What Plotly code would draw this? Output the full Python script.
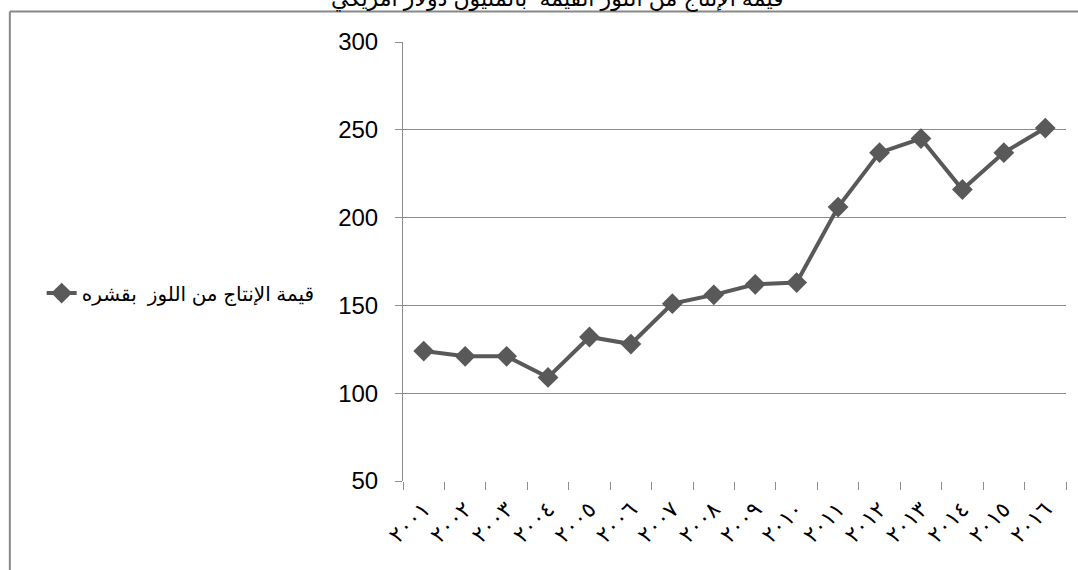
import plotly.graph_objects as go

# Almond production value (in shell), million US dollars
years = ["٢٠٠١", "٢٠٠٢", "٢٠٠٣", "٢٠٠٤", "٢٠٠٥", "٢٠٠٦", "٢٠٠٧", "٢٠٠٨",
         "٢٠٠٩", "٢٠١٠", "٢٠١١", "٢٠١٢", "٢٠١٣", "٢٠١٤", "٢٠١٥", "٢٠١٦"]
values = [124, 121, 121, 109, 132, 128, 151, 156, 162, 163, 206, 237, 245, 216, 237, 251]

series_name = "قيمة الإنتاج من اللوز  بقشره"
title_text = "قيمة الإنتاج من اللوز القيمة  بالمليون دولار أمريكي"

y_ticks = [50, 100, 150, 200, 250, 300]

LINE = "#595959"
GRID = "#8c8c8c"
FONT = "Arial, 'Liberation Sans', 'DejaVu Sans', sans-serif"

fig = go.Figure()
fig.add_trace(go.Scatter(
    x=years, y=values, name=series_name, mode="lines+markers",
    line=dict(color=LINE, width=4),
    marker=dict(symbol="diamond", size=16, color=LINE),
    showlegend=True,
))

# outer frame of the chart area (top and left edges)
frame = dict(color="#888888", width=2)
fig.add_shape(type="line", xref="paper", yref="paper",
              x0=-0.593, x1=1.05, y0=1.0695, y1=1.0695, line=frame)
fig.add_shape(type="line", xref="paper", yref="paper",
              x0=-0.593, x1=-0.593, y0=1.0695, y1=-0.25, line=frame)

fig.add_annotation(text=title_text, xref="paper", yref="paper",
                   x=0.233, y=1.101, xanchor="center", yanchor="middle",
                   showarrow=False, font=dict(family=FONT, size=22, color="#000000"))

fig.update_layout(
    width=1078, height=570,
    margin=dict(l=403, r=12, t=42, b=89),
    paper_bgcolor="white", plot_bgcolor="white",
    font=dict(family=FONT, color="#000000"),
    legend=dict(x=-0.545, y=0.428, xanchor="left", yanchor="middle",
                font=dict(family=FONT, size=20, color="#000000"),
                bgcolor="rgba(0,0,0,0)"),
)

fig.update_xaxes(
    type="category", tickson="boundaries", ticks="outside", ticklen=8,
    tickcolor=GRID, tickwidth=1, showgrid=False, showline=False,
    tickangle=-45, tickfont=dict(family=FONT, size=22, color="#000000"),
    zeroline=False, range=[-0.5, len(years) - 0.5],
    ticklabelstandoff=10,
)
fig.update_yaxes(
    range=[50, 300], tickvals=y_ticks, ticks="outside", ticklen=7,
    tickcolor=GRID, showgrid=True, gridcolor=GRID, gridwidth=1,
    showline=True, linecolor=GRID, linewidth=1, zeroline=False,
    tickfont=dict(family=FONT, size=24, color="#000000"),
    ticklabelstandoff=12,
)

fig.write_html("out.html")
